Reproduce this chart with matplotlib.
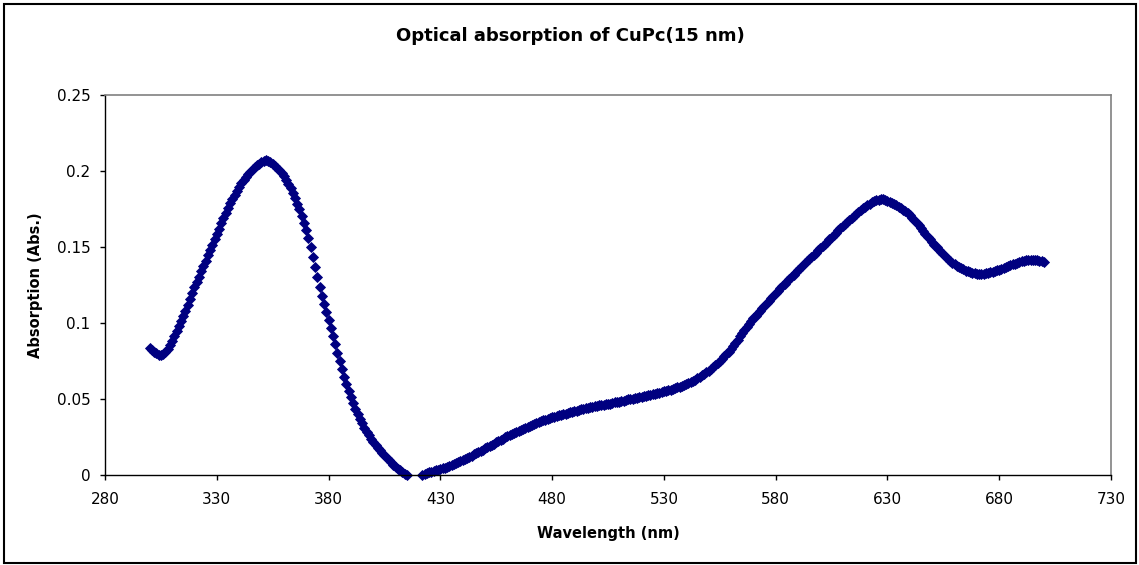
#!/usr/bin/env python3
"""
plot.py — optical absorption spectrum of a 15 nm CuPc film,
redrawn in the old Excel look (diamond markers, boxed chart).
"""

import matplotlib
matplotlib.use("Agg")
import matplotlib.pyplot as plt
from matplotlib.patches import Rectangle
import numpy as np

# ── Data ──────────────────────────────────────────────────────────────────────

# one reading per nm, 300 … 700 nm
WAVELENGTH = np.arange(300, 701)

ABSORPTION = [
    0.0835, 0.0824, 0.0812, 0.0801, 0.0792, 0.0788, 0.0795, 0.0810, 0.0830, 0.0854,  # 300
    0.0880, 0.0912, 0.0945, 0.0979, 0.1013, 0.1047, 0.1082, 0.1118, 0.1155, 0.1195,  # 310
    0.1235, 0.1270, 0.1305, 0.1340, 0.1375, 0.1410, 0.1445, 0.1480, 0.1515, 0.1550,  # 320
    0.1585, 0.1620, 0.1655, 0.1690, 0.1724, 0.1757, 0.1788, 0.1817, 0.1845, 0.1871,  # 330
    0.1895, 0.1918, 0.1940, 0.1960, 0.1978, 0.1995, 0.2010, 0.2024, 0.2037, 0.2049,  # 340
    0.2060, 0.2067, 0.2070, 0.2066, 0.2058, 0.2047, 0.2035, 0.2021, 0.2007, 0.1988,  # 350
    0.1966, 0.1942, 0.1916, 0.1887, 0.1856, 0.1822, 0.1786, 0.1748, 0.1706, 0.1660,  # 360
    0.1610, 0.1556, 0.1498, 0.1436, 0.1370, 0.1302, 0.1238, 0.1178, 0.1122, 0.1070,  # 370
    0.1020, 0.0968, 0.0914, 0.0860, 0.0805, 0.0750, 0.0697, 0.0646, 0.0598, 0.0553,  # 380
    0.0511, 0.0472, 0.0436, 0.0403, 0.0371, 0.0340, 0.0312, 0.0286, 0.0262, 0.0240,  # 390
    0.0219, 0.0199, 0.0180, 0.0162, 0.0145, 0.0129, 0.0113, 0.0098, 0.0083, 0.0069,  # 400
    0.0055, 0.0042, 0.0030, 0.0019, 0.0009, 0.0001, -0.0006, -0.0011, -0.0013, -0.0012,  # 410
    -0.0008, -0.0003, 0.0002, 0.0008, 0.0013, 0.0018, 0.0022, 0.0026, 0.0030, 0.0034,  # 420
    0.0039, 0.0044, 0.0049, 0.0054, 0.0060, 0.0066, 0.0072, 0.0078, 0.0084, 0.0091,  # 430
    0.0098, 0.0105, 0.0112, 0.0119, 0.0127, 0.0135, 0.0143, 0.0151, 0.0159, 0.0167,  # 440
    0.0175, 0.0183, 0.0191, 0.0199, 0.0207, 0.0215, 0.0223, 0.0231, 0.0239, 0.0247,  # 450
    0.0255, 0.0262, 0.0269, 0.0276, 0.0283, 0.0290, 0.0297, 0.0304, 0.0311, 0.0318,  # 460
    0.0325, 0.0331, 0.0337, 0.0343, 0.0349, 0.0354, 0.0359, 0.0364, 0.0369, 0.0374,  # 470
    0.0379, 0.0383, 0.0388, 0.0392, 0.0396, 0.0400, 0.0404, 0.0408, 0.0412, 0.0416,  # 480
    0.0420, 0.0424, 0.0428, 0.0432, 0.0436, 0.0440, 0.0443, 0.0446, 0.0449, 0.0452,  # 490
    0.0455, 0.0458, 0.0461, 0.0463, 0.0465, 0.0467, 0.0470, 0.0473, 0.0477, 0.0480,  # 500
    0.0483, 0.0486, 0.0490, 0.0493, 0.0497, 0.0500, 0.0503, 0.0506, 0.0509, 0.0512,  # 510
    0.0515, 0.0518, 0.0522, 0.0525, 0.0528, 0.0532, 0.0535, 0.0539, 0.0542, 0.0546,  # 520
    0.0550, 0.0554, 0.0558, 0.0562, 0.0567, 0.0572, 0.0577, 0.0582, 0.0587, 0.0593,  # 530
    0.0599, 0.0606, 0.0613, 0.0620, 0.0628, 0.0636, 0.0645, 0.0655, 0.0665, 0.0676,  # 540
    0.0687, 0.0699, 0.0711, 0.0724, 0.0737, 0.0751, 0.0765, 0.0780, 0.0796, 0.0812,  # 550
    0.0829, 0.0846, 0.0868, 0.0890, 0.0912, 0.0934, 0.0955, 0.0975, 0.0995, 0.1013,  # 560
    0.1030, 0.1047, 0.1064, 0.1081, 0.1098, 0.1115, 0.1132, 0.1148, 0.1164, 0.1180,  # 570
    0.1196, 0.1212, 0.1228, 0.1244, 0.1259, 0.1274, 0.1289, 0.1304, 0.1319, 0.1334,  # 580
    0.1350, 0.1364, 0.1378, 0.1392, 0.1406, 0.1420, 0.1434, 0.1448, 0.1463, 0.1477,  # 590
    0.1492, 0.1507, 0.1521, 0.1536, 0.1550, 0.1565, 0.1580, 0.1594, 0.1609, 0.1623,  # 600
    0.1638, 0.1652, 0.1666, 0.1680, 0.1694, 0.1707, 0.1720, 0.1732, 0.1744, 0.1755,  # 610
    0.1766, 0.1776, 0.1786, 0.1795, 0.1802, 0.1808, 0.1812, 0.1814, 0.1813, 0.1810,  # 620
    0.1805, 0.1799, 0.1792, 0.1784, 0.1775, 0.1766, 0.1756, 0.1745, 0.1734, 0.1722,  # 630
    0.1709, 0.1694, 0.1678, 0.1661, 0.1643, 0.1625, 0.1606, 0.1587, 0.1568, 0.1550,  # 640
    0.1532, 0.1515, 0.1498, 0.1482, 0.1466, 0.1451, 0.1437, 0.1423, 0.1410, 0.1398,  # 650
    0.1387, 0.1377, 0.1368, 0.1360, 0.1352, 0.1345, 0.1339, 0.1334, 0.1330, 0.1327,  # 660
    0.1325, 0.1324, 0.1324, 0.1325, 0.1327, 0.1330, 0.1333, 0.1337, 0.1341, 0.1346,  # 670
    0.1351, 0.1356, 0.1362, 0.1368, 0.1374, 0.1380, 0.1386, 0.1391, 0.1396, 0.1401,  # 680
    0.1405, 0.1409, 0.1412, 0.1414, 0.1415, 0.1415, 0.1414, 0.1412, 0.1409, 0.1405,  # 690
    0.1400,                                                                            # 700
]

X_TICKS = [280, 330, 380, 430, 480, 530, 580, 630, 680, 730]
Y_TICKS = [0, 0.05, 0.1, 0.15, 0.2, 0.25]
Y_TICK_LABELS = ["0", "0.05", "0.1", "0.15", "0.2", "0.25"]

TITLE = "Optical absorption of CuPc(15 nm)"
X_LABEL = "Wavelength (nm)"
Y_LABEL = "Absorption (Abs.)"

# ── Style ─────────────────────────────────────────────────────────────────────

W_PX, H_PX = 1139, 565
NAVY = "#000080"
# old GDI Arial runs wide; DejaVu Sans matches its extent better
plt.rcParams["font.family"] = ["DejaVu Sans"]


def main() -> None:
    fig = plt.figure(figsize=(W_PX / 100, H_PX / 100), dpi=100)

    # outer chart frame
    fig.patches.append(Rectangle((4 / W_PX, 2 / H_PX), 1132 / W_PX, 559 / H_PX,
                                 transform=fig.transFigure, fill=False,
                                 edgecolor="black", linewidth=1.5))

    # plot area: x 105…1111 px, y 95…475 px
    ax = fig.add_axes([105 / W_PX, (H_PX - 475) / H_PX,
                       1006 / W_PX, 380 / H_PX])

    # Excel drops the points below the axis minimum
    x = np.asarray(WAVELENGTH)
    y = np.asarray(ABSORPTION)
    keep = y >= 0
    ax.plot(x[keep], y[keep], linestyle="none", marker="D", markersize=4.6,
            color=NAVY, markeredgecolor=NAVY, markeredgewidth=0.6,
            clip_on=False)

    ax.set_xlim(280, 730)
    ax.set_ylim(0, 0.25)
    ax.set_xticks(X_TICKS)
    ax.set_yticks(Y_TICKS)
    ax.set_yticklabels(Y_TICK_LABELS)
    ax.tick_params(direction="out", length=3.6, width=1, labelsize=11,
                   colors="black")
    ax.tick_params(axis="y", pad=7)
    ax.tick_params(axis="x", pad=9)

    for side in ("top", "right"):
        ax.spines[side].set_color("#808080")
        ax.spines[side].set_linewidth(1.2)
    for side in ("left", "bottom"):
        ax.spines[side].set_color("black")
        ax.spines[side].set_linewidth(1.0)

    ax.set_xlabel(X_LABEL, fontsize=10.5, fontweight="bold", labelpad=13)
    ax.set_ylabel(Y_LABEL, fontsize=10.5, fontweight="bold", labelpad=10)
    fig.text(570 / W_PX, 1 - 36 / H_PX, TITLE, fontsize=13, fontweight="bold",
             ha="center", va="center")

    fig.savefig("out.png", dpi=100)
    plt.close(fig)


if __name__ == "__main__":
    main()
